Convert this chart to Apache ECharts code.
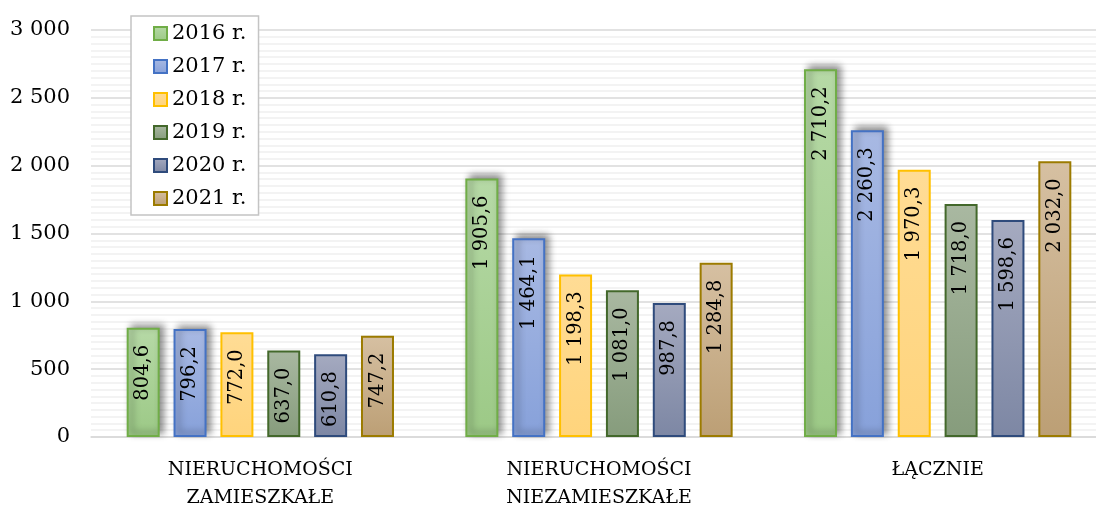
<!DOCTYPE html>
<html>
<head>
<meta charset="utf-8">
<script src="https://cdn.jsdelivr.net/npm/echarts@6/dist/echarts.min.js"></script>
<style>
html,body{margin:0;padding:0;background:#fff;}
#chart{width:1096px;height:505px;}
</style>
</head>
<body>
<div id="chart"></div>
<script>
const categories = ['NIERUCHOMOŚCI\nZAMIESZKAŁE', 'NIERUCHOMOŚCI\nNIEZAMIESZKAŁE', 'ŁĄCZNIE'];
const seriesNames = ['2016 r.', '2017 r.', '2018 r.', '2019 r.', '2020 r.', '2021 r.'];
const v2016 = [804.6, 1905.6, 2710.2];
const v2017 = [796.2, 1464.1, 2260.3];
const v2018 = [772.0, 1198.3, 1970.3];
const v2019 = [637.0, 1081.0, 1718.0];
const v2020 = [610.8, 987.8, 1598.6];
const v2021 = [747.2, 1284.8, 2032.0];
const yTicks = [0, 500, 1000, 1500, 2000, 2500, 3000];

const seriesValues = [v2016, v2017, v2018, v2019, v2020, v2021];
const styles = [
  {top:'#b6d9a6', bottom:'#9cc986', border:'#70ad47', shadow:true},
  {top:'#a8b9e3', bottom:'#87a1da', border:'#4472c4', shadow:true},
  {top:'#ffdc95', bottom:'#ffd47c', border:'#ffc000', shadow:false},
  {top:'#a9b8a1', bottom:'#869c7c', border:'#43682b', shadow:false},
  {top:'#a5aac0', bottom:'#7d87a4', border:'#2f4b7c', shadow:false},
  {top:'#d6c0a2', bottom:'#bc9f75', border:'#9c7b00', shadow:false}
];

const FONT = 'DejaVu Serif';

function fmtNum(v, dec) {
  const s = v.toFixed(dec);
  const parts = s.split('.');
  const intPart = parts[0].replace(/\B(?=(\d{3})+(?!\d))/g, ' ');
  return parts.length > 1 ? intPart + ',' + parts[1] : intPart;
}

const series = seriesNames.map((name, i) => {
  const st = styles[i];
  const itemStyle = {
    color: new echarts.graphic.LinearGradient(0, 0, 0, 1, [
      {offset: 0, color: st.top},
      {offset: 1, color: st.bottom}
    ]),
    borderColor: st.border,
    borderWidth: 2
  };
  if (st.shadow) {
    itemStyle.shadowBlur = 7;
    itemStyle.shadowColor = 'rgba(0,0,0,0.45)';
    itemStyle.shadowOffsetX = 4;
    itemStyle.shadowOffsetY = -3;
  }
  return {
    name: name,
    type: 'bar',
    data: seriesValues[i],
    barWidth: 33,
    barGap: '42%',
    itemStyle: itemStyle,
    label: {
      show: true,
      position: ['50%', 17],
      rotate: 90,
      align: 'right',
      verticalAlign: 'middle',
      fontFamily: FONT,
      fontSize: 19.5,
      color: '#000',
      formatter: p => fmtNum(p.value, 1)
    }
  };
});

const chart = echarts.init(document.getElementById('chart'));
chart.setOption({
  animation: false,
  backgroundColor: '#ffffff',
  grid: {left: 91, top: 30, bottom: 68, width: 1016, containLabel: false, outerBoundsMode: 'none'},
  legend: {
    orient: 'vertical',
    left: 131,
    top: 16,
    data: seriesNames.map(n => ({name: n, icon: 'rect', itemStyle: {shadowBlur: 0, shadowOffsetX: 0, shadowOffsetY: 0, shadowColor: 'transparent'}})),
    itemWidth: 13,
    itemHeight: 13,
    itemGap: 12,
    padding: [7, 12, 6, 22],
    borderColor: '#c4c4c4',
    borderWidth: 1.5,
    backgroundColor: '#fff',
    textStyle: {fontFamily: FONT, fontSize: 21, color: '#000', lineHeight: 20}
  },
  xAxis: {
    type: 'category',
    data: categories,
    axisTick: {show: false},
    axisLine: {lineStyle: {color: '#d9d9d9', width: 1.5}},
    axisLabel: {
      fontFamily: FONT,
      fontSize: 19,
      color: '#000',
      lineHeight: 28,
      margin: 19,
      interval: 0
    }
  },
  yAxis: {
    type: 'value',
    min: yTicks[0],
    max: yTicks[yTicks.length - 1],
    interval: 500,
    axisLine: {show: false},
    axisTick: {show: false},
    axisLabel: {
      fontFamily: FONT,
      fontSize: 21,
      color: '#000',
      margin: 21,
      formatter: v => fmtNum(v, 0)
    },
    splitLine: {lineStyle: {color: '#d9d9d9', width: 1.5}},
    minorTick: {show: false, splitNumber: 10},
    minorSplitLine: {show: true, lineStyle: {color: '#efefef', width: 1.5}}
  },
  series: series
});
</script>
</body>
</html>
